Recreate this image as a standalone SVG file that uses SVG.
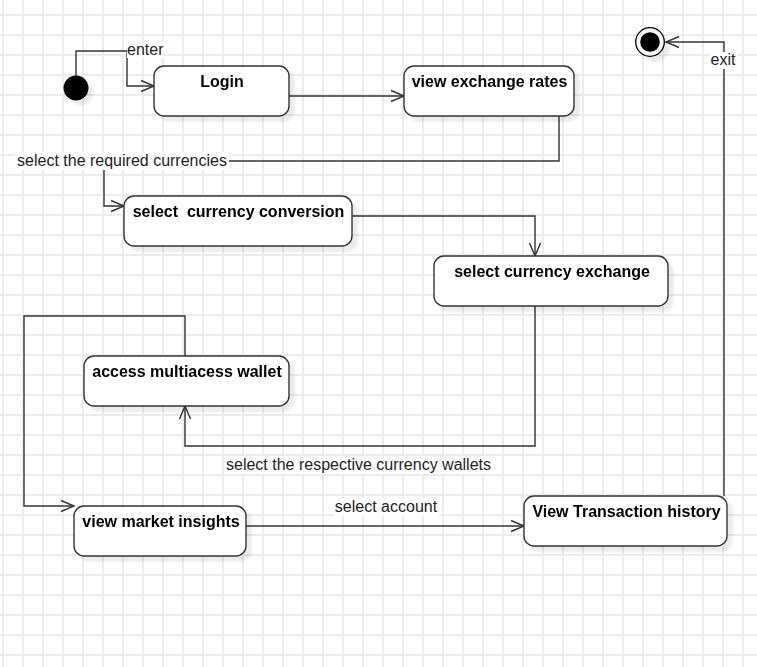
<svg xmlns="http://www.w3.org/2000/svg" width="757" height="667" viewBox="0 0 757 667">
<style>
.node rect{fill:#fff;stroke:#333;stroke-width:1.4}
.nt{font-family:"Liberation Sans",Arial,sans-serif;font-size:16px;font-weight:bold;fill:#000;text-anchor:middle}
.el{font-family:"Liberation Sans",Arial,sans-serif;font-size:16px;fill:#222}
.lbg{fill:#fff}
.conn path{fill:none;stroke:#333;stroke-width:1.4}
</style>
<defs>
<pattern id="grid" patternUnits="userSpaceOnUse" x="-7" y="5" width="20" height="20">
<path d="M10 0V20M0 10H20" stroke="#ececec" stroke-width="2" fill="none"/>
</pattern>
<filter id="sh" x="-20%" y="-30%" width="150%" height="180%">
<feGaussianBlur in="SourceAlpha" stdDeviation="1.5"/>
<feOffset dx="5" dy="5"/>
<feComponentTransfer><feFuncA type="linear" slope="0.08"/></feComponentTransfer>
<feMerge><feMergeNode/><feMergeNode in="SourceGraphic"/></feMerge>
</filter>
<marker id="arr" markerUnits="userSpaceOnUse" markerWidth="16" markerHeight="14" refX="13" refY="6" orient="auto" overflow="visible">
<path d="M0,0.5 L13,6 L0,11.5" fill="none" stroke="#333" stroke-width="1.4"/>
</marker>
</defs>
<rect width="757" height="667" fill="#fff"/>
<rect width="757" height="667" fill="url(#grid)"/>

<g id="connectors" class="conn">
<path d="M76 76V51H127V86H154" marker-end="url(#arr)"/>
<path d="M289 96H404" marker-end="url(#arr)"/>
<path d="M559 116V161H104V206H124" marker-end="url(#arr)"/>
<path d="M352 216H535V256" marker-end="url(#arr)"/>
<path d="M535 306V446H185V406" marker-end="url(#arr)"/>
<path d="M185 356V316H24V506H74" marker-end="url(#arr)"/>
<path d="M246 526H524" marker-end="url(#arr)"/>
<path d="M724 496V42H666" marker-end="url(#arr)"/>
<g id="edge-labels">
<rect class="lbg" x="127" y="42" width="37" height="16"/>
<text class="el" x="127" y="55">enter</text>
<rect class="lbg" x="15" y="152" width="214" height="18"/>
<text class="el" x="122" y="165.5" text-anchor="middle">select the required currencies</text>
<rect class="lbg" x="224" y="456" width="270" height="18"/>
<text class="el" x="358.5" y="470" text-anchor="middle">select the respective currency wallets</text>
<rect class="lbg" x="334" y="498" width="105" height="18"/>
<text class="el" x="386" y="512" text-anchor="middle">select account</text>
<rect class="lbg" x="710" y="52" width="27" height="17"/>
<text class="el" x="723" y="65" text-anchor="middle">exit</text>
</g>
</g>

<g id="initial" filter="url(#sh)">
<circle cx="76" cy="88" r="12.5" fill="#000"/>
</g>
<g id="final" filter="url(#sh)">
<circle cx="650" cy="42" r="14.3" fill="#fff" stroke="#000" stroke-width="1.3"/>
<circle cx="650" cy="42" r="9.8" fill="#000"/>
</g>

<g id="login" class="node" filter="url(#sh)">
<rect x="154" y="66" width="135" height="50" rx="10"/>
<text class="nt" x="222" y="87">Login</text>
</g>
<g id="view-exchange-rates" class="node" filter="url(#sh)">
<rect x="404" y="66" width="170" height="50" rx="10"/>
<text class="nt" x="489.5" y="87">view exchange rates</text>
</g>
<g id="select-currency-conversion" class="node" filter="url(#sh)">
<rect x="124" y="196" width="228" height="50" rx="10"/>
<text class="nt" x="238.5" y="217" xml:space="preserve">select  currency conversion</text>
</g>
<g id="select-currency-exchange" class="node" filter="url(#sh)">
<rect x="434" y="256" width="234" height="50" rx="10"/>
<text class="nt" x="552" y="277">select currency exchange</text>
</g>
<g id="access-wallet" class="node" filter="url(#sh)">
<rect x="84" y="356" width="205" height="50" rx="10"/>
<text class="nt" x="187" y="377">access multiacess wallet</text>
</g>
<g id="view-market-insights" class="node" filter="url(#sh)">
<rect x="74" y="506" width="172" height="50" rx="10"/>
<text class="nt" x="161" y="527">view market insights</text>
</g>
<g id="view-transaction-history" class="node" filter="url(#sh)">
<rect x="524" y="496" width="203" height="50" rx="10"/>
<text class="nt" x="626.5" y="517">View Transaction history</text>
</g>
</svg>
